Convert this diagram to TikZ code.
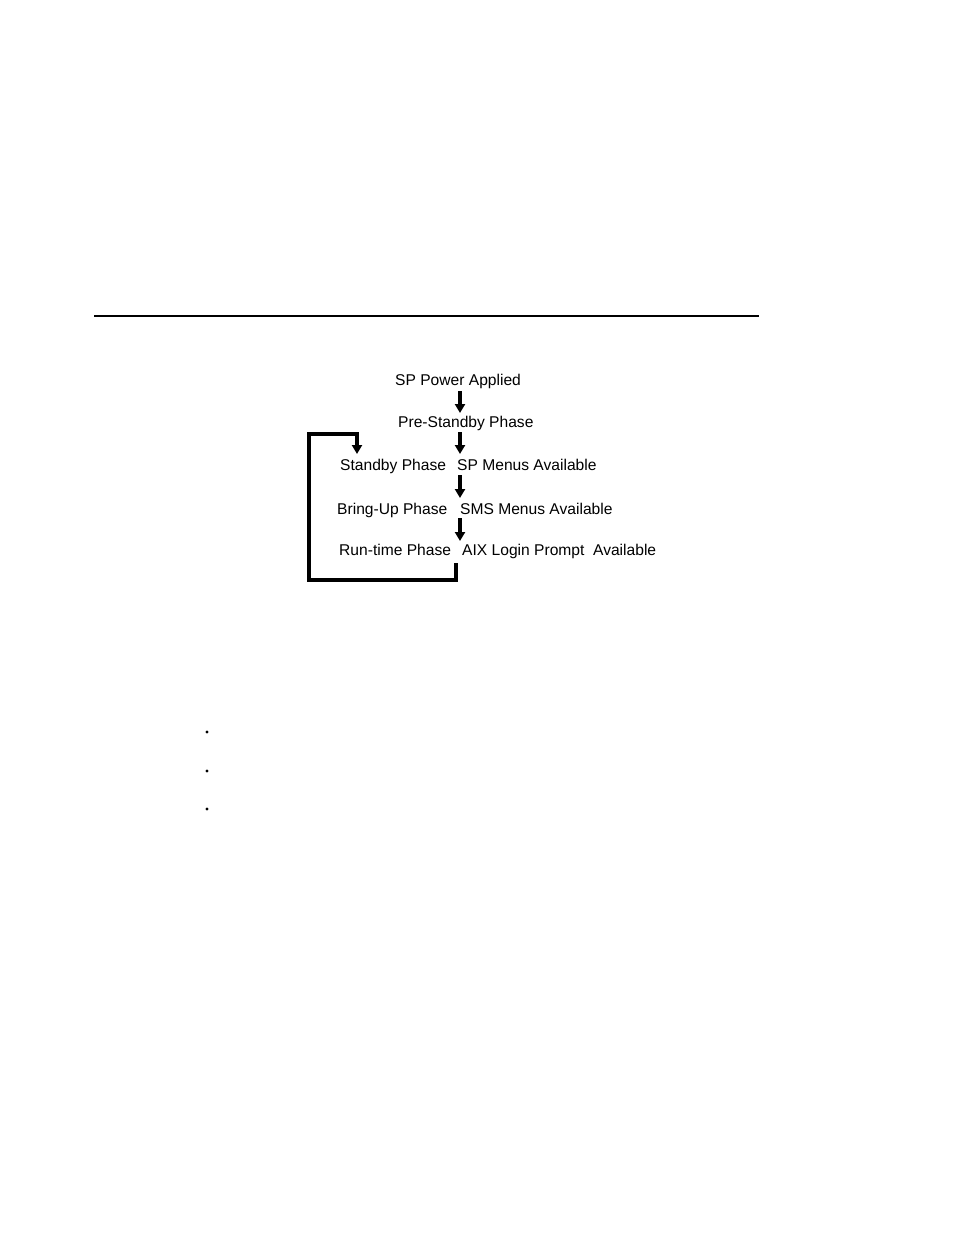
\documentclass[tikz,border=0pt]{standalone}
\usepackage{fontspec}
\setmainfont{Liberation Sans}
\usetikzlibrary{arrows.meta}
\begin{document}
\begin{tikzpicture}[x=1pt,y=-1pt,
  lbl/.style={anchor=west,inner sep=0pt,text height=11pt,text depth=0pt,font=\fontsize{15.6pt}{18pt}\selectfont},
  flow/.style={line width=3.2pt,-{Triangle[width=10pt,length=9pt]}},
  loopline/.style={line width=3.2pt}]
\useasboundingbox (0,0) rectangle (954,1235);
\draw[line width=2pt] (94,316) -- (759,316);
\node[lbl] (spp) at (395,380) {SP Power Applied};
\node[lbl] (pre) at (398,422) {Pre-Standby Phase};
\node[lbl] (stb) at (340,465) {Standby Phase};
\node[lbl] (spm) at (457,465) {SP Menus Available};
\node[lbl] (bup) at (337,509) {Bring-Up Phase};
\node[lbl] (sms) at (460,509) {SMS Menus Available};
\node[lbl] (run) at (339,550) {Run-time Phase};
\node[lbl] (aix) at (462,550) {AIX Login Prompt\ \ Available};
\coordinate (a1s) at (460,391); \coordinate (a1e) at (460,413);
\coordinate (a2s) at (460,432); \coordinate (a2e) at (460,454);
\coordinate (a3s) at (460,475); \coordinate (a3e) at (460,498);
\coordinate (a4s) at (460,518); \coordinate (a4e) at (460,541);
\draw[flow] (a1s) -- (a1e);
\draw[flow] (a2s) -- (a2e);
\draw[flow] (a3s) -- (a3e);
\draw[flow] (a4s) -- (a4e);
\coordinate (lb) at (456,563);
\coordinate (lt) at (357,454);
\draw[loopline] (lb) -- (456,580) -- (309,580) -- (309,434) -- (357,434) -- (357,446);
\draw[flow] (357,440) -- (lt);
\foreach \yy in {732,771,809} \fill (207,\yy) circle (1.7pt);
\end{tikzpicture}
\end{document}
